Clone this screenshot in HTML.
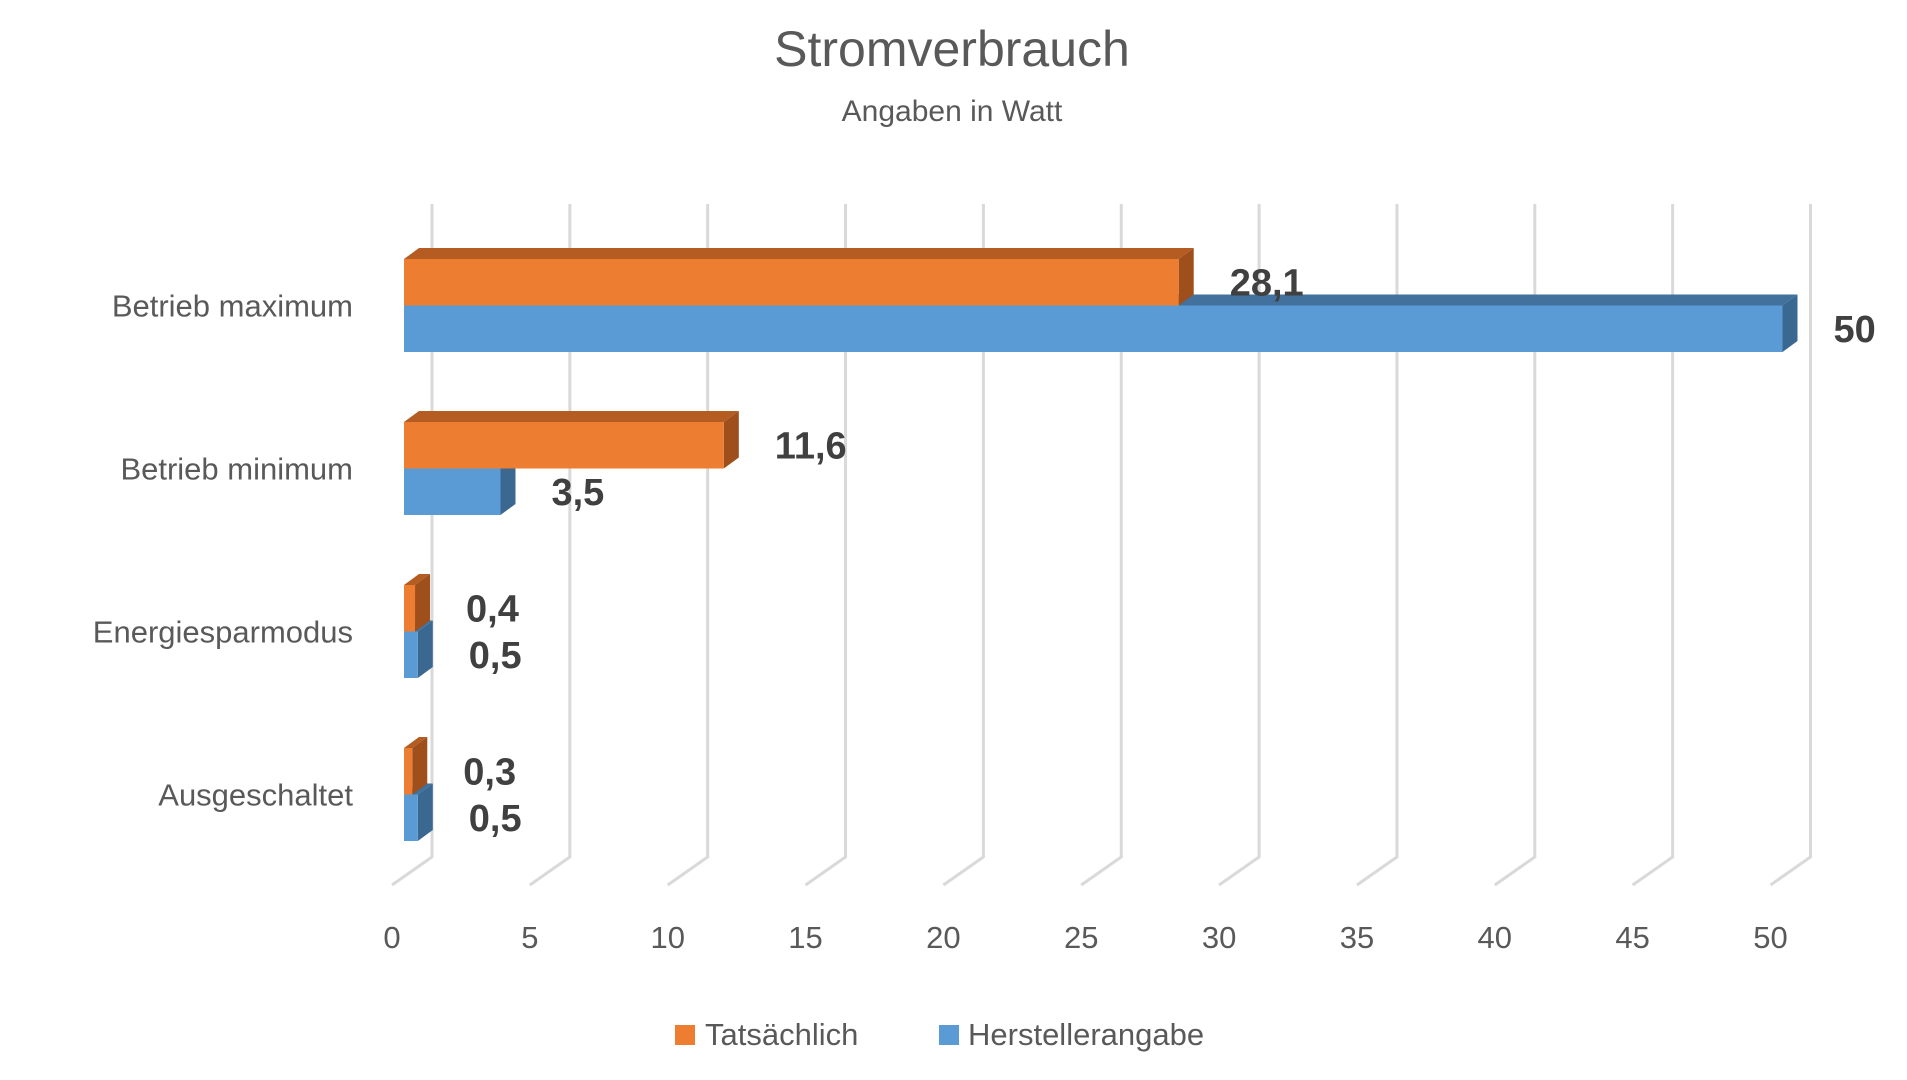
<!DOCTYPE html>
<html><head><meta charset="utf-8"><style>
html,body{margin:0;padding:0;background:#fff}
svg{display:block;font-family:"Liberation Sans",sans-serif}
</style></head><body>
<svg id="chart" width="1907" height="1080" viewBox="0 0 1907 1080" xmlns="http://www.w3.org/2000/svg">
<text x="952" y="66" text-anchor="middle" font-size="50" fill="#595959">Stromverbrauch</text>
<text x="952" y="121" text-anchor="middle" font-size="30" fill="#595959">Angaben in Watt</text>
<g id="grid"></g><g id="bars"></g><g id="labels"></g>
<g>
<rect x="675" y="1025" width="20" height="20" fill="#ED7D31"/>
<text x="705" y="1045" font-size="31" fill="#595959">Tatsächlich</text>
<rect x="939" y="1025" width="20" height="20" fill="#5B9BD5"/>
<text x="968" y="1045" font-size="31" fill="#595959">Herstellerangabe</text>
</g>
</svg>
<script>
const categories = ["Betrieb maximum","Betrieb minimum","Energiesparmodus","Ausgeschaltet"];
const tatsaechlich = [28.1, 11.6, 0.4, 0.3];
const hersteller = [50, 3.5, 0.5, 0.5];
const valueLabelsT = ["28,1","11,6","0,4","0,3"];
const valueLabelsH = ["50","3,5","0,5","0,5"];
const ticks = [0,5,10,15,20,25,30,35,40,45,50];

const NS="http://www.w3.org/2000/svg";
const X0=404, UNIT=27.57, DX=15, DY=-11, BH=46.5, TOP0=259, PITCH=163;
const x = v => X0 + v*UNIT;
function mk(tag, attrs, parent){const e=document.createElementNS(NS,tag);for(const k in attrs)e.setAttribute(k,attrs[k]);parent.appendChild(e);return e;}
const grid=document.getElementById('grid'), bars=document.getElementById('bars'), labels=document.getElementById('labels');

ticks.forEach(t=>{
  const fx = x(t) - 12, bx = fx + 40;
  const p = mk('polyline',{points:`${bx},204 ${bx},857 ${fx},885`,fill:'none',stroke:'#D9D9D9','stroke-width':3},grid);
  
  
  const tx = mk('text',{x:fx,y:948,'text-anchor':'middle','font-size':31,fill:'#595959'},labels);
  tx.textContent=t;
  
  
});

function bar(v, y, front, top, side, name, lbl){
  const x1=x(v);
  const g=mk('g',{},bars);
  
  
  mk('polygon',{points:`${X0},${y} ${X0+DX},${y+DY} ${x1+DX},${y+DY} ${x1},${y}`,fill:top},g);
  mk('polygon',{points:`${x1},${y} ${x1+DX},${y+DY} ${x1+DX},${y+BH+DY} ${x1},${y+BH}`,fill:side},g);
  mk('rect',{x:X0,y:y,width:Math.max(0,x1-X0),height:BH,fill:front},g);
  const t=mk('text',{x:x1+DX+36,y:y+BH/2+13,'font-size':38,'font-weight':'bold',fill:'#404040'},labels);
  t.textContent=lbl;
  
  
}
categories.forEach((c,i)=>{
  const yo = TOP0 + i*PITCH, yb = yo + BH;
  const ct=mk('text',{x:353,y:yb+11,'text-anchor':'end','font-size':31,fill:'#595959'},labels);
  ct.textContent=c;
  
  
  bar(hersteller[i], yb, '#5B9BD5','#41719C','#3B6890','bar-hersteller-'+i, valueLabelsH[i]);
  bar(tatsaechlich[i], yo, '#ED7D31','#B45C22','#9E4F1C','bar-tatsaechlich-'+i, valueLabelsT[i]);
});
</script>
</body></html>
